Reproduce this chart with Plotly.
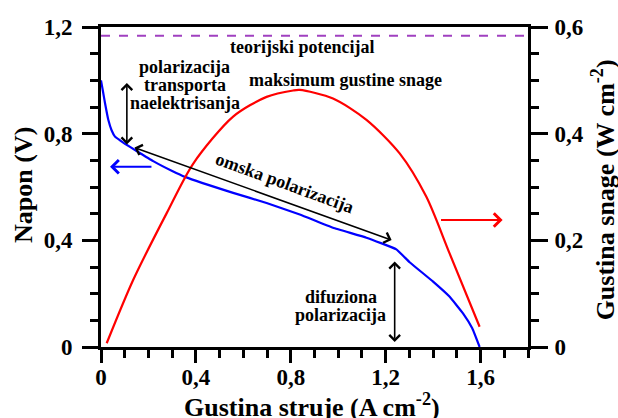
import plotly.graph_objects as go

# ---- data ----
j_voltage = [0, 0.008, 0.017, 0.031, 0.045, 0.059, 0.08, 0.101, 0.15, 0.22, 0.3, 0.354,
             0.557, 0.698, 0.838, 0.978, 1.119, 1.245, 1.301, 1.4,
             1.469, 1.526, 1.565, 1.596]
voltage = [1.0, 0.96, 0.914, 0.851, 0.812, 0.789, 0.775, 0.762, 0.735, 0.697, 0.66, 0.638,
           0.578, 0.540, 0.497, 0.447, 0.410, 0.366, 0.318, 0.245,
           0.189, 0.126, 0.07, 0.0]

j_power = [0.024, 0.136, 0.277, 0.389, 0.557, 0.698, 0.81, 0.838, 0.978, 1.119, 1.259,
           1.371, 1.469, 1.596]
power = [0.007, 0.126, 0.251, 0.344, 0.432, 0.469, 0.481, 0.482, 0.466, 0.426, 0.363,
         0.282, 0.176, 0.038]

theoretical_v = 1.167

x_ticks = [0, 0.4, 0.8, 1.2, 1.6]
x_tick_labels = ["0", "0,4", "0,8", "1,2", "1,6"]
v_ticks = [0, 0.4, 0.8, 1.2]
v_tick_labels = ["0", "0,4", "0,8", "1,2"]
p_ticks = [0, 0.2, 0.4, 0.6]
p_tick_labels = ["0", "0,2", "0,4", "0,6"]

x_title = "Gustina struje (A cm<sup>-2</sup>)"
v_title = "Napon (V)"
p_title = "Gustina snage (W cm<sup>-2</sup>)"

FONT = "Liberation Serif, Times New Roman, serif"
BLACK = "#000000"

fig = go.Figure()
fig.add_trace(go.Scatter(x=[0, 1.8], y=[theoretical_v, theoretical_v], mode="lines",
                         line=dict(color="#a040c0", width=2, dash="dash"),
                         showlegend=False, hoverinfo="skip"))
fig.add_trace(go.Scatter(x=j_voltage, y=voltage, mode="lines",
                         line=dict(color="#0000ff", width=2.2, shape="spline", smoothing=0.3),
                         showlegend=False))
fig.add_trace(go.Scatter(x=j_power, y=power, mode="lines", yaxis="y2",
                         line=dict(color="#ff0000", width=2.2, shape="spline", smoothing=0.8),
                         showlegend=False))

ann_font = dict(family=FONT, size=18, color=BLACK, weight="bold")

def text(x, y, s, angle=0, yref="y"):
    fig.add_annotation(x=x, y=y, xref="x", yref=yref, text=s, showarrow=False,
                       font=ann_font, textangle=angle, align="center",
                       borderpad=0, borderwidth=0)

text(0.846, 1.125, "teorijski potencijal")
text(1.032, 1.001, "maksimum gustine snage")
text(0.354, 1.050, "polarizacija")
text(0.354, 0.982, "transporta")
text(0.354, 0.915, "naelektrisanja")
text(0.775, 0.615, "omska polarizacija", angle=20)
text(1.011, 0.1875, "difuziona")
text(1.011, 0.120, "polarizacija")

def arrow(x, y, ax, ay, color=BLACK, both=False, yref="y", width=1.6):
    fig.add_annotation(x=x, y=y, ax=ax, ay=ay, xref="x", yref=yref, axref="x", ayref=yref,
                       text="", showarrow=True, arrowhead=4, arrowsize=1.3,
                       arrowwidth=width, arrowcolor=color,
                       arrowside="end+start" if both else "end")

arrow(0.109, 0.99, 0.109, 0.754, both=True)
arrow(1.225, 0.401, 0.135, 0.750, both=True)
arrow(1.238, 0.019, 1.238, 0.326, both=True)
arrow(0.038, 0.676, 0.219, 0.676, color="#0000ff", width=2)
arrow(1.693, 0.238, 1.427, 0.238, color="#ff0000", width=2, yref="y2")

titlefont = dict(family=FONT, size=26, color=BLACK, weight="bold")
fig.add_annotation(x=0.495, y=-0.182, xref="paper", yref="paper", text=x_title,
                   showarrow=False, font=titlefont, xanchor="center", yanchor="middle",
                   borderpad=0)
fig.add_annotation(x=-0.183, y=0.506, xref="paper", yref="paper", text=v_title,
                   showarrow=False, font=titlefont, textangle=-90,
                   xanchor="center", yanchor="middle", borderpad=0)
fig.add_annotation(x=1.176, y=0.49, xref="paper", yref="paper", text=p_title,
                   showarrow=False, font=titlefont, textangle=-90,
                   xanchor="center", yanchor="middle", borderpad=0)

tickfont = dict(family=FONT, size=23, color=BLACK, weight="bold")
common = dict(showgrid=False, zeroline=False, showline=True, linecolor=BLACK, linewidth=3,
              ticks="outside", tickwidth=3, tickcolor=BLACK, tickfont=tickfont,
              automargin=False)
minor_common = dict(ticks="outside", ticklen=8, tickwidth=2.5, tickcolor=BLACK, showgrid=False)

fig.update_layout(
    template="none",
    width=618, height=418,
    margin=dict(l=101, r=90, t=27, b=71),
    plot_bgcolor="white", paper_bgcolor="white",
    showlegend=False,
    xaxis=dict(range=[0, 1.8], tickvals=x_ticks, ticktext=x_tick_labels, mirror=True,
               ticklen=13, ticklabelstandoff=-6,
               minor=dict(dtick=0.1, tick0=0, **minor_common),
               **common),
    yaxis=dict(range=[0, 1.2], tickvals=v_ticks, ticktext=v_tick_labels,
               ticklen=16, ticklabelstandoff=5,
               minor=dict(dtick=0.1, tick0=0, **minor_common),
               **common),
    yaxis2=dict(range=[0, 0.6], tickvals=p_ticks, ticktext=p_tick_labels, overlaying="y",
                side="right", ticklen=17, ticklabelstandoff=2,
                minor=dict(dtick=0.05, tick0=0, **minor_common),
                **common),
)

fig.write_html("out.html", config={"displayModeBar": False},
               post_script="document.body.style.margin='0px';")
